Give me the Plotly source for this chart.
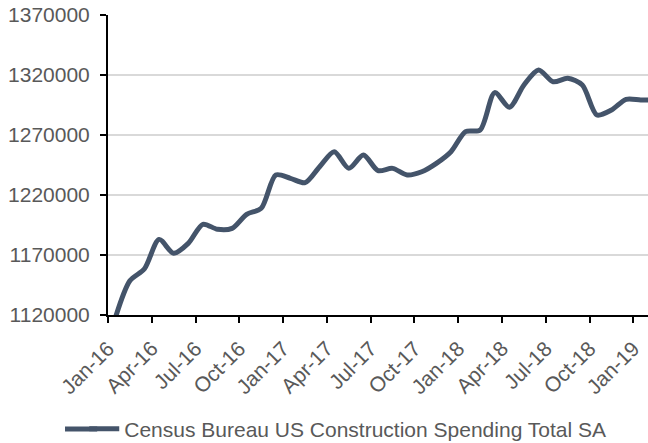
import plotly.graph_objects as go

months = ["Jan-16","Feb-16","Mar-16","Apr-16","May-16","Jun-16","Jul-16","Aug-16","Sep-16","Oct-16","Nov-16","Dec-16",
          "Jan-17","Feb-17","Mar-17","Apr-17","May-17","Jun-17","Jul-17","Aug-17","Sep-17","Oct-17","Nov-17","Dec-17",
          "Jan-18","Feb-18","Mar-18","Apr-18","May-18","Jun-18","Jul-18","Aug-18","Sep-18","Oct-18","Nov-18","Dec-18",
          "Jan-19","Feb-19"]
spending = [1117500, 1148500, 1158500, 1183000, 1171400, 1179700, 1195600, 1191400, 1192200, 1203900, 1208900, 1236700,
            1233900, 1230300, 1243600, 1256100, 1242200, 1253300, 1240300, 1242200, 1236700, 1239400, 1246400, 1256100,
            1272800, 1274200, 1305300, 1293100, 1311700, 1324200, 1314400, 1317200, 1311700, 1286700, 1290800, 1299700,
            1299200, 1299000]
tick_labels = ["Jan-16","Apr-16","Jul-16","Oct-16","Jan-17","Apr-17","Jul-17","Oct-17","Jan-18","Apr-18","Jul-18","Oct-18","Jan-19"]
y_ticks = [1120000, 1170000, 1220000, 1270000, 1320000, 1370000]

idx = list(range(len(months)))
tick_pos = [months.index(t) - 0.5 for t in tick_labels]

line_color = "#44546A"
font_color = "#595959"
FS = 21

fig = go.Figure()
fig.add_trace(go.Scatter(
    x=idx, y=spending, mode="lines",
    name="Census Bureau US Construction Spending Total SA",
    line=dict(color=line_color, width=5, shape="spline", smoothing=0.8),
))

LEG_Y = -0.38
fig.update_layout(
    width=648, height=443,
    margin=dict(l=108, r=0, t=15, b=128, autoexpand=False),
    paper_bgcolor="white", plot_bgcolor="white",
    font=dict(family="Liberation Sans, Arial, sans-serif", size=FS, color=font_color),
    showlegend=True,
    legend=dict(orientation="h", x=-0.044, xanchor="left", y=LEG_Y, yanchor="middle",
                font=dict(size=FS, color=font_color), bgcolor="rgba(0,0,0,0)"),
)
# extend the legend's line sample to the reference's longer swatch
fig.add_shape(type="line", xref="paper", yref="paper",
              x0=-0.0796, x1=-0.02, y0=LEG_Y, y1=LEG_Y,
              line=dict(color=line_color, width=5), layer="above")
fig.update_xaxes(
    range=[-0.5, 36.5], automargin=False,
    tickmode="array", tickvals=tick_pos, ticktext=tick_labels,
    tickangle=-45, ticks="outside", ticklen=6, tickcolor="black", tickwidth=2,
    ticklabelstandoff=5,
    showline=True, linecolor="black", linewidth=2,
    showgrid=False, zeroline=False,
    tickfont=dict(size=FS, color=font_color),
)
fig.update_yaxes(
    range=[1120000, 1370000], automargin=False,
    tickmode="array", tickvals=y_ticks, ticktext=[str(v) for v in y_ticks],
    ticks="outside", ticklen=6, tickcolor="black", tickwidth=2,
    ticklabelstandoff=6,
    showline=True, linecolor="black", linewidth=2,
    showgrid=True, gridcolor="#D9D9D9", gridwidth=1.5,
    zeroline=False,
    tickfont=dict(size=FS, color=font_color),
)

fig.write_html("out.html", config={"displayModeBar": False},
               post_script="document.body.style.margin='0';")
